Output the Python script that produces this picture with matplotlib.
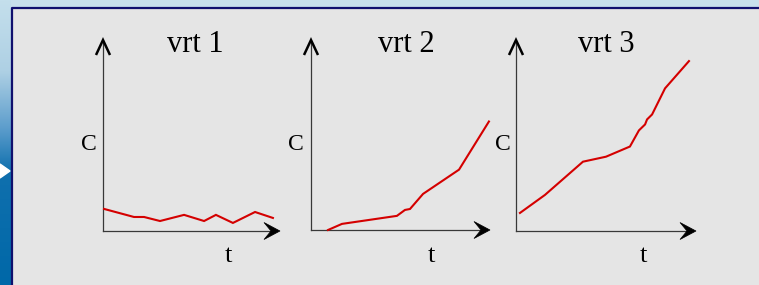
import numpy as np
import matplotlib
matplotlib.use("Agg")
import matplotlib.pyplot as plt
from matplotlib.colors import LinearSegmentedColormap
from matplotlib.patches import Rectangle, Polygon

# ---- data (t, C) in arbitrary units, axes span 0..10 ----
t1 = [0.06, 1.75, 2.32, 3.22, 4.58, 5.71, 6.38, 7.34, 8.59, 9.6]
c1 = [1.15, 0.73, 0.73, 0.52, 0.84, 0.52, 0.84, 0.42, 0.99, 0.68]

t2 = [0.95, 1.73, 4.8, 5.25, 5.53, 6.26, 8.27, 9.94]
c2 = [0.0, 0.32, 0.74, 1.05, 1.1, 1.89, 3.16, 5.68]

t3 = [0.22, 1.61, 3.72, 5.0, 6.33, 6.83, 7.17, 7.28, 7.56, 8.28, 9.61]
c3 = [0.94, 1.88, 3.61, 3.87, 4.4, 5.24, 5.55, 5.81, 6.07, 7.43, 8.85]

titles = ["vrt 1", "vrt 2", "vrt 3"]
ylabel = "C"
xlabel = "t"

W, H = 759, 285
fig = plt.figure(figsize=(W / 100, H / 100), dpi=100)

# ---- background decoration ----
bg = fig.add_axes([0, 0, 1, 1])
bg.axis("off")
bg.add_patch(Rectangle((0, 0), W, H, color="#c8e0ec", zorder=0))
cmap = LinearSegmentedColormap.from_list(
    "strip",
    [(0.0, "#c4dfec"), (0.25, "#aed0e4"), (0.45, "#5c9dcc"),
     (0.6, "#1070ae"), (1.0, "#0068a8")])
grad = np.linspace(0, 1, 256).reshape(-1, 1)
bg.imshow(grad, cmap=cmap, extent=(0, 11, H, 0), aspect="auto", zorder=1)
bg.add_patch(Rectangle((11, 7), W - 11, H - 7, facecolor="#e5e5e5",
                       edgecolor="none", zorder=2))
bg.plot([11.5, 11.5, W], [H, 7.5, 7.5], color="#10106e", lw=1.6, zorder=3,
        solid_capstyle="butt")
bg.add_patch(Polygon([(0, 164), (10, 171), (0, 178)], closed=True,
                     color="white", zorder=3))
bg.set_xlim(0, W)
bg.set_ylim(H, 0)

# ---- charts ----
boxes = [(103, 280, 231, 39), (311, 490, 230, 39), (516, 696, 231, 39)]
title_x = [195, 406, 606]
clab_x = [89, 296, 503]
tlab_x = [228, 431, 643]
series = [(t1, c1), (t2, c2), (t3, c3)]

for i, ((x0, xr, y0, yt), (ts, cs)) in enumerate(zip(boxes, series)):
    ax = fig.add_axes([x0 / W, (H - y0) / H, (xr - x0) / W, (y0 - yt) / H])
    ax.set_xlim(0, 10)
    ax.set_ylim(0, 10)
    ax.axis("off")
    ax.patch.set_alpha(0)
    ax.plot(ts, cs, color="#d40000", lw=1.5, clip_on=False,
            solid_joinstyle="miter", zorder=4)
    # axis shafts
    bg.plot([x0, xr - 4], [y0, y0], color="#383838", lw=0.9, zorder=4)
    bg.plot([x0, x0], [y0, yt + 2], color="#383838", lw=0.9, zorder=4)
    # arrow heads
    bg.add_patch(Polygon([(xr, y0), (xr - 16, y0 - 8.5), (xr - 9, y0),
                          (xr - 16, y0 + 8.5)], closed=True,
                         color="black", lw=0.5, zorder=5))
    bg.plot([x0 - 7, x0, x0 + 7], [yt + 16, yt + 1, yt + 16], color="black",
            lw=1.8, zorder=5, solid_joinstyle="miter", solid_capstyle="butt")

for i in range(3):
    bg.text(title_x[i], 44, titles[i], fontsize=22, family="Liberation Serif",
            ha="center", va="center", color="black", zorder=5)
    bg.text(clab_x[i], 144, ylabel, fontsize=17, family="Liberation Serif",
            ha="center", va="center", color="black", zorder=5)
    bg.text(tlab_x[i], 256, xlabel, fontsize=19, family="Liberation Serif",
            ha="center", va="center", color="black", zorder=5)

fig.savefig("out.png", dpi=100)
